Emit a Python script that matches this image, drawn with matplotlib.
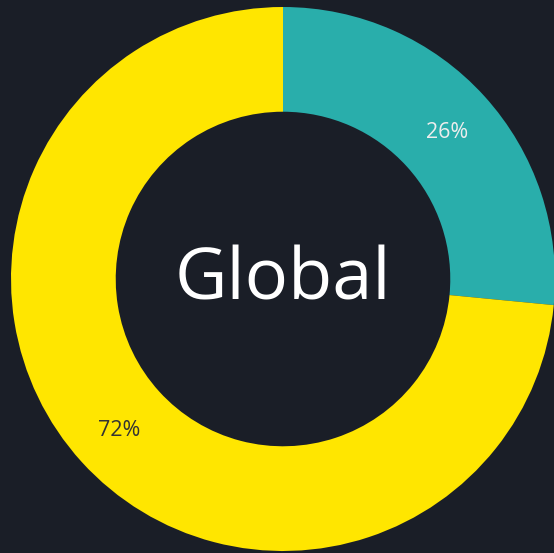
import matplotlib
matplotlib.use("Agg")
import matplotlib.pyplot as plt
import numpy as np

# donut values (labels show 26% / 72%)
labels = ["Regional", "Global"]
shares = [26, 72]
label_text = ["26%", "72%"]
colors = ["#29AEAB", "#FFE600"]
text_colors = ["#EDEDED", "#333333"]
centre_label = "Global"

bg = "#1A1E27"
fonts = ["Open Sans", "DejaVu Sans"]

fig = plt.figure(figsize=(5.54, 5.53), dpi=100, facecolor=bg)
ax = fig.add_axes([0, 0, 1, 1])
ax.set_facecolor(bg)

wedges, _ = ax.pie(shares, colors=colors, startangle=90, counterclock=False,
                   radius=1.0, wedgeprops=dict(width=0.385, linewidth=0))

# pie() resets limits, so set them afterwards
R = 272.0  # outer radius in pixels
cx, cy = 283.0, 279.0  # centre in pixels from top-left
ax.set_xlim(-cx / R, (554 - cx) / R)
ax.set_ylim(-(553 - cy) / R, cy / R)
ax.set_aspect("auto")
ax.axis("off")

total = sum(shares)
start = 90.0
for val, txt, tc in zip(shares, label_text, text_colors):
    span = 360.0 * val / total
    mid = np.deg2rad(start - span / 2)
    ax.text(0.815 * np.cos(mid), 0.815 * np.sin(mid) - 0.01, txt, ha="center",
            va="center", color=tc, fontsize=15.5, family=fonts)
    start -= span

ax.text(0, -0.008, centre_label, ha="center", va="center", color="white",
        fontsize=52, weight="medium", family=fonts)

fig.savefig("out.png", dpi=100, facecolor=bg)
